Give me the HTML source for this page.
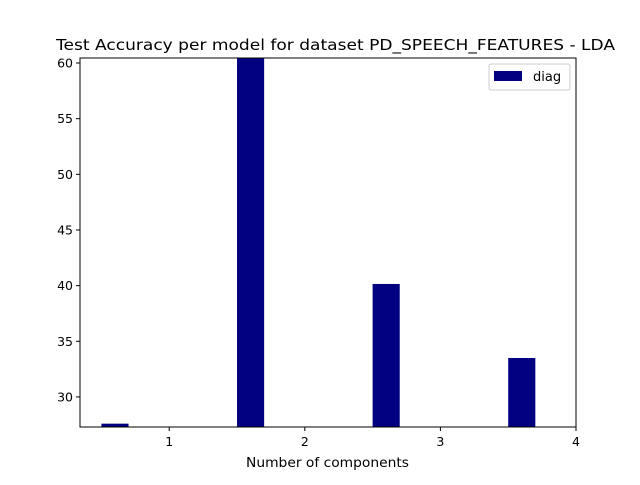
<!DOCTYPE html>
<html><head><meta charset="utf-8"><style>
body{margin:0;background:#fff;font-family:"Liberation Sans","DejaVu Sans",sans-serif;}
text{font-family:"DejaVu Sans","Liberation Sans",sans-serif;}
</style></head><body>
<svg id="chart" width="640" height="480" xmlns="http://www.w3.org/2000/svg">
<rect width="640" height="480" fill="#fff"/>
<text x="335.5" y="50" font-size="15" text-anchor="middle" textLength="559" lengthAdjust="spacingAndGlyphs">Test Accuracy per model for dataset PD_SPEECH_FEATURES - LDA</text>
<g id="bars"></g>
<rect x="80" y="58" width="496" height="369" fill="none" stroke="#000" stroke-width="1"/>
<g id="xticks"></g><g id="yticks"></g>
<text x="327.5" y="467" font-size="13" text-anchor="middle" textLength="163" lengthAdjust="spacingAndGlyphs">Number of components</text>
<g>
<rect x="489" y="64" width="81" height="26" rx="2" fill="#fff" stroke="#ccc"/>
<rect x="494" y="71" width="28" height="10" fill="#000080"/>
<text x="533" y="81" font-size="13">diag</text>
</g>
</svg>
<script>
const categories=[1,2,3,4];
const diagValues=[27.6,60.8,40.15,33.5];
const xTickLabels=["1","2","3","4"];
const yTickLabels=["30","35","40","45","50","55","60"];
const NS="http://www.w3.org/2000/svg";
const X0=80,X1=576,Y0=427,Y1=58,xmin=0.342,xmax=4.0,ymin=27.3,ymax=60.45;
const xs=v=>X0+(v-xmin)/(xmax-xmin)*(X1-X0);
const ys=v=>Y0-(v-ymin)/(ymax-ymin)*(Y0-Y1);
const bars=document.getElementById('bars');
const bw=0.2;
categories.forEach((c,i)=>{
 const r=document.createElementNS(NS,'rect');
 const x=xs(c-0.4-bw/2),top=Math.max(ys(diagValues[i]),Y1);
 r.setAttribute('x',x);r.setAttribute('width',xs(c-0.4+bw/2)-x);
 r.setAttribute('y',top);r.setAttribute('height',Y0-top);r.setAttribute('fill','#000080');
 
 
 bars.appendChild(r);
});
const xt=document.getElementById('xticks');
xTickLabels.forEach(l=>{
 const x=xs(+l);
 const ln=document.createElementNS(NS,'line');
 ln.setAttribute('x1',x);ln.setAttribute('x2',x);ln.setAttribute('y1',Y0);ln.setAttribute('y2',Y0+4);ln.setAttribute('stroke','#000');
 xt.appendChild(ln);
 const t=document.createElementNS(NS,'text');
 t.setAttribute('x',x);t.setAttribute('y',Y0+19);t.setAttribute('font-size','12.5');t.setAttribute('text-anchor','middle');
 t.textContent=l;
 
 
 xt.appendChild(t);
});
const yt=document.getElementById('yticks');
yTickLabels.forEach(l=>{
 const y=ys(+l);
 const ln=document.createElementNS(NS,'line');
 ln.setAttribute('x1',X0-4);ln.setAttribute('x2',X0);ln.setAttribute('y1',y);ln.setAttribute('y2',y);ln.setAttribute('stroke','#000');
 yt.appendChild(ln);
 const t=document.createElementNS(NS,'text');
 t.setAttribute('x',X0-7);t.setAttribute('y',y+4.5);t.setAttribute('font-size','12.5');t.setAttribute('text-anchor','end');
 t.textContent=l;
 
 
 yt.appendChild(t);
});
</script>
</body></html>
